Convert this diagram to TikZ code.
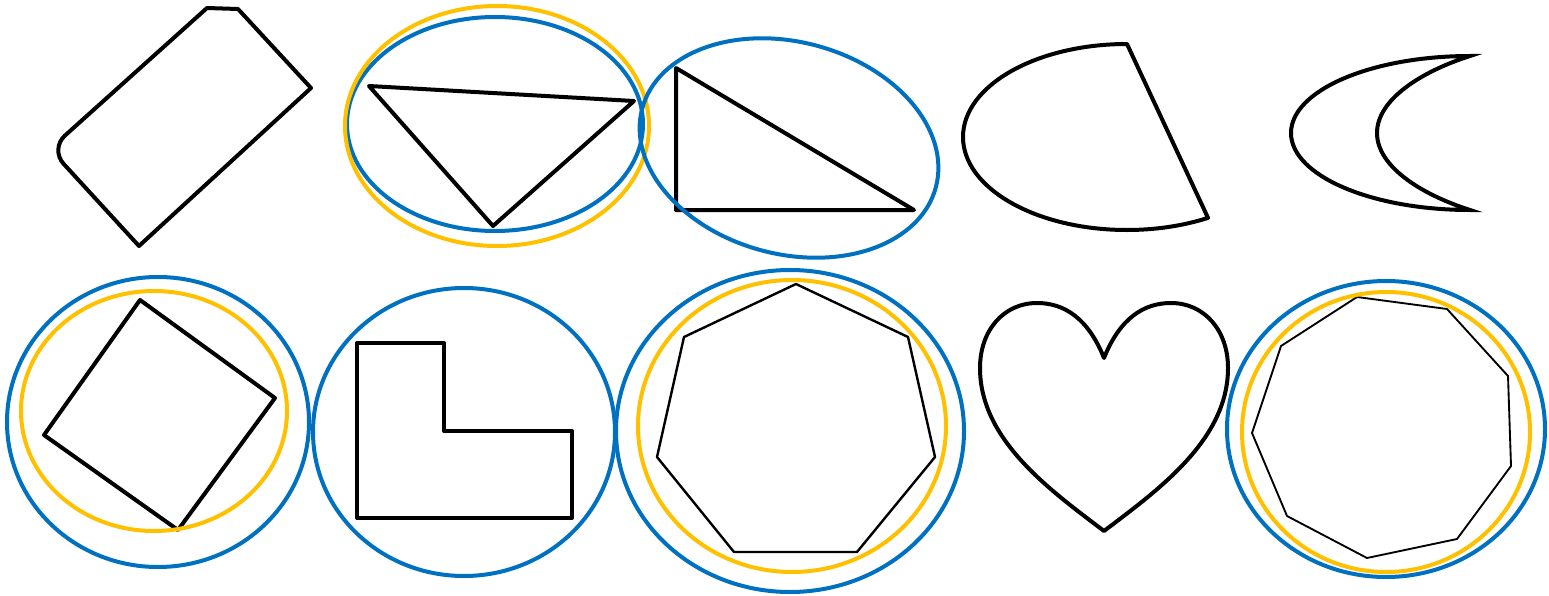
\documentclass[tikz,border=0pt]{standalone}
\usepackage{xcolor}
\definecolor{RingBlue}{HTML}{0070C0}
\definecolor{RingGold}{HTML}{FFC000}

\begin{document}
\begin{tikzpicture}[x=0.75pt, y=-0.75pt,
  outline/.style={draw=black, line width=3pt, line join=round},
  thinline/.style={draw=black, line width=1.8pt, line join=round},
  bluering/.style={draw=RingBlue, line width=3pt},
  goldring/.style={draw=RingGold, line width=3pt}]
\useasboundingbox (0,0) rectangle (1549,596);
% top row
\draw[outline] (139,246) [rounded corners=15pt] -- (50,149) [sharp corners] -- (207,8) -- (238,9) -- (311,88) -- cycle;
\draw[outline] (369,86) -- (634,101) -- (493,226) -- cycle;
\draw[bluering] (495,124) ellipse [x radius=148, y radius=107];
\draw[goldring] (497,126) ellipse [x radius=152, y radius=120];
\draw[outline] (676,68) -- (676,210) -- (914,210) -- cycle;
\draw[bluering, rotate around={-15:(789,148)}] (789,148) ellipse [x radius=152, y radius=106];
\draw[outline] (1127,44) arc [start angle=270, end angle=60.4, x radius=164, y radius=93] -- cycle;
\draw[outline, line join=miter] (1470,56) arc [start angle=270, end angle=90, x radius=179, y radius=77]
  .. controls (1420,194) and (1377,166) .. (1377,133)
  .. controls (1377,100) and (1420,72) .. cycle;
% bottom row
\draw[outline] (140,300) -- (275,398) -- (178,530) -- (44,435) -- cycle;
\draw[bluering] (158,422) ellipse [x radius=151, y radius=145];
\draw[goldring] (154,411) ellipse [x radius=133, y radius=120];
\draw[outline] (357,343) -- (444,343) -- (444,431) -- (572,431) -- (572,518) -- (357,518) -- cycle;
\draw[bluering] (464,432) ellipse [x radius=151, y radius=144];
\draw[thinline] (796,284) -- (908,337) -- (935,457) -- (857,552) -- (734,552) -- (657,457) -- (684,337) -- cycle;
\draw[bluering] (790,431) ellipse [x radius=174, y radius=161];
\draw[goldring] (792,426) ellipse [x radius=154, y radius=146];
\draw[outline] (1104,358) .. controls (1088,318) and (1064,303) .. (1037,303)
  .. controls (1004,303) and (980,330) .. (980,368)
  .. controls (980,440) and (1050,490) .. (1104,531)
  .. controls (1158,490) and (1228,440) .. (1228,368)
  .. controls (1228,330) and (1204,303) .. (1171,303)
  .. controls (1144,303) and (1120,318) .. cycle;
\draw[thinline, line width=1.4pt] (1357,297) -- (1447,309) -- (1508,376) -- (1511,466) -- (1457,539) -- (1367,558) -- (1287,516) -- (1252,433) -- (1281,346) -- cycle;
\draw[bluering] (1386,429) ellipse [x radius=159, y radius=148];
\draw[goldring] (1386,432) ellipse [x radius=144, y radius=140];
\end{tikzpicture}
\end{document}
